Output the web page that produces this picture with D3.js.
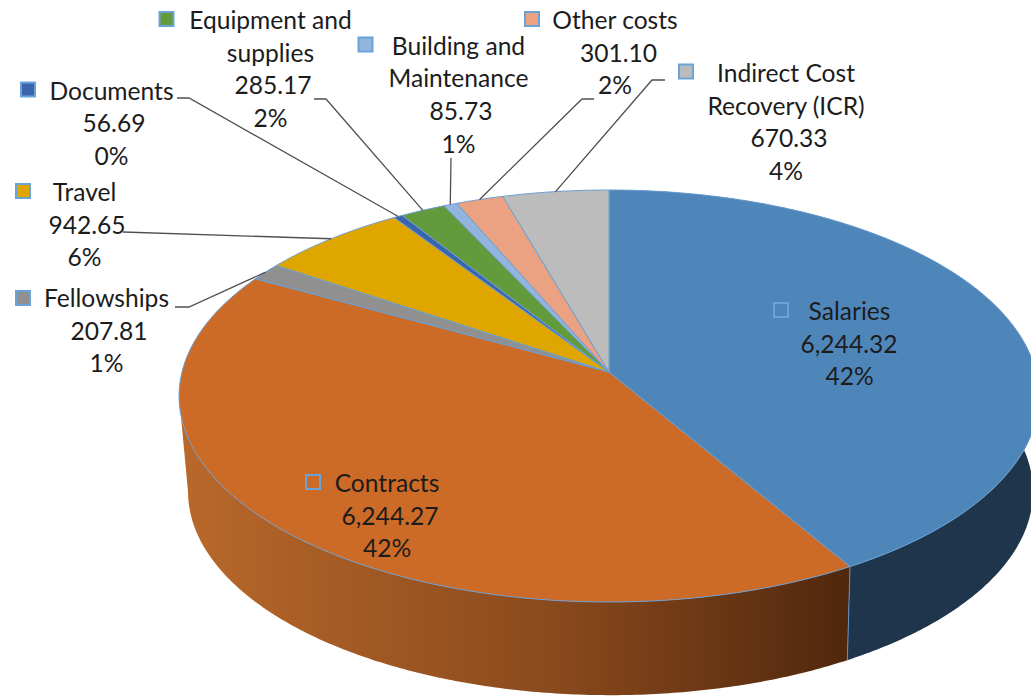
<!DOCTYPE html>
<html>
<head>
<meta charset="utf-8">
<script src="https://cdnjs.cloudflare.com/ajax/libs/d3/7.8.5/d3.min.js"></script>
<style>
  html, body { margin: 0; background: #fff; overflow: hidden; }
  svg { display: block; }
</style>
</head>
<body>
<div class="canvas"></div>
<script>
// Chart data, clockwise from 12 o'clock
const categories = ["Salaries", "Contracts", "Fellowships", "Travel", "Documents",
  "Equipment and supplies", "Building and Maintenance", "Other costs", "Indirect Cost Recovery (ICR)"];
const costs = [6244.32, 6244.27, 207.81, 942.65, 56.69, 285.17, 85.73, 301.1, 670.33];
const colours = ["#4f86ba", "#cc6a27", "#909090", "#e0a600", "#3c64ad", "#639a3c", "#93b4dc", "#eaa283", "#bcbcbc"];

const dims = { width: 1031, height: 696 };
const cent = { x: 609, y: 372 };

// The pie is tilted with a perspective, so the far half is flatter than the near half
const tilt = { rx: 427, ry: 203.2, k: 0.1165 };
const topFace = { sx: 1, sy: 1, dx: 0, dy: 0 };
const baseFace = { sx: 0.9827, sy: 0.9885, dx: 1.5, dy: 95.8 };

const rimPoint = (angle, face = topFace) => {
  const w = 1 + tilt.k * Math.cos(angle);
  return [
    cent.x + face.dx + (face.sx * tilt.rx * Math.sin(angle)) / w,
    cent.y + face.dy - (face.sy * tilt.ry * Math.cos(angle)) / w,
  ];
};

const rimArc = (start, end, face) => {
  const steps = Math.max(2, Math.ceil((end - start) / 0.01));
  return d3.range(steps + 1).map((i) => rimPoint(start + ((end - start) * i) / steps, face));
};

const line = d3.line();

const svg = d3
  .select(".canvas")
  .append("svg")
  .attr("width", dims.width)
  .attr("height", dims.height);

const pie = d3.pie().sort(null).value((d) => d.cost);
const rows = categories.map((name, i) => ({ name, cost: costs[i], colour: colours[i] }));
const slices = pie(rows);
const total = d3.sum(costs);

const fmtValue = d3.format(",.2f");
const fmtPct = d3.format(".0%");

// Shaded side wall of the contracts slice
const grad = svg
  .append("defs")
  .append("linearGradient")
  .attr("id", "contractsWall")
  .attr("gradientUnits", "userSpaceOnUse")
  .attr("x1", 184)
  .attr("x2", 851)
  .attr("y1", 0)
  .attr("y2", 0);
grad.append("stop").attr("offset", "0%").attr("stop-color", "#b9682a");
grad.append("stop").attr("offset", "55%").attr("stop-color", "#8a4a1d");
grad.append("stop").attr("offset", "100%").attr("stop-color", "#50270d");

// Walls stop at the leftmost point of the rim, the straight edge joins the two faces there
const leftTurn = d3.least(
  d3.range(slices[1].startAngle, slices[1].endAngle, 0.005),
  (a) => rimPoint(a)[0]
);

const wallPath = (d) => {
  const end = Math.min(d.endAngle, leftTurn);
  return line([
    ...rimArc(d.startAngle, end, topFace),
    ...rimArc(d.startAngle, end, baseFace).reverse(),
  ]) + "Z";
};

svg
  .append("g")
  .selectAll("path")
  .data(slices.slice(0, 2))
  .join("path")
  .attr("d", wallPath)
  .attr("fill", (d, i) => (i === 0 ? "#1f354b" : "url(#contractsWall)"));

// Seam between the two walls
const seamAngle = slices[0].endAngle;
svg
  .append("path")
  .attr("d", line([rimPoint(seamAngle), rimPoint(seamAngle, baseFace)]))
  .attr("stroke", "#5f93c6")
  .attr("stroke-width", 1)
  .attr("fill", "none");

// Top face
svg
  .append("g")
  .selectAll("path")
  .data(slices)
  .join("path")
  .attr("d", (d) => line([[cent.x, cent.y], ...rimArc(d.startAngle, d.endAngle, topFace)]) + "Z")
  .attr("fill", (d) => d.data.colour)
  .attr("stroke", "#6a9fd3")
  .attr("stroke-width", 1)
  .attr("stroke-linejoin", "round");

// Leader lines: the hand placed elbows end on the rim at the slice's middle angle
const leaders = [
  { name: "Fellowships", from: [[175, 307], [189, 307]] },
  { name: "Travel", from: [[123, 232]] },
  { name: "Documents", from: [[177, 98], [189, 98]] },
  { name: "Equipment and supplies", from: [[314, 99], [326, 99]] },
  { name: "Building and Maintenance", from: [[451, 158]] },
  { name: "Other costs", from: [[594, 99], [582, 99]] },
  { name: "Indirect Cost Recovery (ICR)", from: [[665, 80], [652, 80]] },
];

svg
  .append("g")
  .selectAll("path")
  .data(leaders)
  .join("path")
  .attr("d", (l) => {
    const s = slices.find((d) => d.data.name === l.name);
    return line([...l.from, rimPoint((s.startAngle + s.endAngle) / 2)]);
  })
  .attr("fill", "none")
  .attr("stroke", "#505050")
  .attr("stroke-width", 1.3);

// Label placement: key square, text centre, first baseline, nudge of the value line
const labels = [
  { name: "Salaries", lines: ["Salaries"], key: [781, 310], x: 849.5, y: 320, nudge: -0.5 },
  { name: "Contracts", lines: ["Contracts"], key: [313, 482], x: 387, y: 492, nudge: 3 },
  { name: "Fellowships", lines: ["Fellowships"], key: [23, 298], x: 106.5, y: 307, nudge: 2.5 },
  { name: "Travel", lines: ["Travel"], key: [23, 191], x: 84.5, y: 201, nudge: 2.5 },
  { name: "Documents", lines: ["Documents"], key: [28, 89.5], x: 111.5, y: 99.5, nudge: 2.5 },
  { name: "Equipment and supplies", lines: ["Equipment and", "supplies"], key: [166.5, 19], x: 270.5, y: 29, nudge: 2.5 },
  { name: "Building and Maintenance", lines: ["Building and", "Maintenance"], key: [365.5, 44.5], x: 458.5, y: 54.5, nudge: 2.5 },
  { name: "Other costs", lines: ["Other costs"], key: [532, 19], x: 615, y: 29, nudge: 3.5 },
  { name: "Indirect Cost Recovery (ICR)", lines: ["Indirect Cost", "Recovery (ICR)"], key: [686, 71.5], x: 786, y: 82, nudge: 3 },
];

const lineGap = 32.7;
const labelGroup = svg
  .append("g")
  .attr("font-family", "Lato, 'Open Sans', sans-serif")
  .attr("font-size", 24.6)
  .attr("fill", "#1c1c1c")
  .attr("text-anchor", "middle");

labels.forEach((l) => {
  const row = rows.find((r) => r.name === l.name);

  labelGroup
    .append("rect")
    .attr("x", l.key[0] - 7)
    .attr("y", l.key[1] - 7)
    .attr("width", 14)
    .attr("height", 14)
    .attr("fill", row.colour)
    .attr("stroke", "#6aa3d8")
    .attr("stroke-width", 2);

  const textLines = [...l.lines, fmtValue(row.cost), fmtPct(row.cost / total)];
  labelGroup
    .append("g")
    .selectAll("text")
    .data(textLines)
    .join("text")
    .attr("x", (d, i) => l.x + (i === l.lines.length ? l.nudge : 0))
    .attr("y", (d, i) => l.y + i * lineGap)
    .text((d) => d);
});
</script>
</body>
</html>
